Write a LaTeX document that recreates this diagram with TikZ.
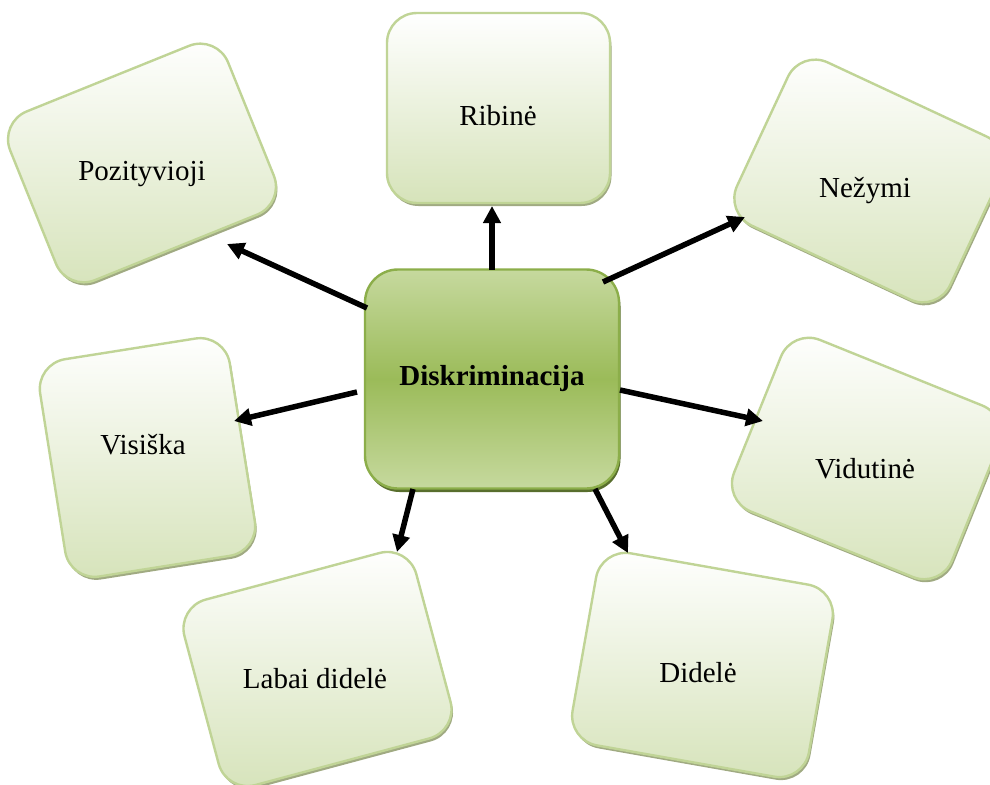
\documentclass[tikz,border=0pt]{standalone}
\usepackage{fontspec}
\setmainfont{Liberation Serif}
\usetikzlibrary{arrows.meta,shadows}
\definecolor{leafborder}{RGB}{192,212,150}
\definecolor{leafbot}{RGB}{214,227,186}
\definecolor{leafshadow}{RGB}{160,170,130}
\definecolor{hubtop}{RGB}{198,217,158}
\definecolor{hubmid}{RGB}{155,187,89}
\definecolor{hubborder}{RGB}{140,174,74}
\definecolor{hubshadow}{RGB}{88,110,45}
\begin{document}
\begin{tikzpicture}[x=1pt,y=-1pt,
  leaf/.style={draw=leafborder, line width=2.4pt, rounded corners=30pt,
    top color=white, bottom color=leafbot, inner sep=0pt, outer sep=0pt,
    drop shadow={shadow xshift=1.5pt, shadow yshift=-3pt, fill=leafshadow, opacity=1}},
  hub/.style={draw=hubborder, line width=2.4pt, rounded corners=33pt,
    top color=hubtop, bottom color=hubtop, middle color=hubmid, inner sep=0pt, outer sep=0pt,
    minimum width=254pt, minimum height=219pt,
    font=\fontsize{29}{34}\selectfont\bfseries,
    drop shadow={shadow xshift=1.5pt, shadow yshift=-3.5pt, fill=hubshadow, opacity=1}},
  lbl/.style={font=\fontsize{29}{34}\selectfont, anchor=base, inner sep=0pt},
  arr/.style={line width=5.5pt, -{Triangle[length=17pt,width=17pt]}}
]
\useasboundingbox (0,0) rectangle (990,784);
\fill[white] (0,0) rectangle (990,784);

% outer boxes
\node[leaf, minimum width=223pt, minimum height=190pt] (b1) at (498.5,108) {};
\node[leaf, minimum width=235pt, minimum height=182pt, rotate=22] (b2) at (142,163) {};
\node[leaf, minimum width=235pt, minimum height=180pt, rotate=-25] (b3) at (869,181) {};
\node[leaf, minimum width=192pt, minimum height=220pt, rotate=9] (b4) at (147.5,457.5) {};
\node[leaf, minimum width=235pt, minimum height=185pt, rotate=-22] (b5) at (866.5,458.5) {};
\node[leaf, minimum width=240pt, minimum height=192pt, rotate=15] (b6) at (317.5,669) {};
\node[leaf, minimum width=240pt, minimum height=195pt, rotate=-10] (b7) at (702.5,665) {};

% labels
\node[lbl] (t1) at (498,125) {Ribinė};
\node[lbl] (t2) at (142,180) {Pozityvioji};
\node[lbl] (t3) at (865,197) {Nežymi};
\node[lbl] (t4) at (143,454) {Visiška};
\node[lbl] (t5) at (865,478) {Vidutinė};
\node[lbl] (t6) at (315,688) {Labai didelė};
\node[lbl] (t7) at (698,682) {Didelė};

% centre
\node[hub] (c) at (492,379) {Diskriminacija};

% arrow end points
\coordinate (s1) at (492,270);   \coordinate (e1) at (492,206);
\coordinate (s2) at (367,308);   \coordinate (e2) at (227,244);
\coordinate (s3) at (603,282);   \coordinate (e3) at (745,217);
\coordinate (s4) at (357,392);   \coordinate (e4) at (234,421);
\coordinate (s5) at (620,390);   \coordinate (e5) at (763,421);
\coordinate (s6) at (413,489);   \coordinate (e6) at (397,552);
\coordinate (s7) at (595,489);   \coordinate (e7) at (628,553);

\draw[arr] (s1) -- (e1);
\draw[arr] (s2) -- (e2);
\draw[arr] (s3) -- (e3);
\draw[arr] (s4) -- (e4);
\draw[arr] (s5) -- (e5);
\draw[arr] (s6) -- (e6);
\draw[arr] (s7) -- (e7);
\end{tikzpicture}
\end{document}
